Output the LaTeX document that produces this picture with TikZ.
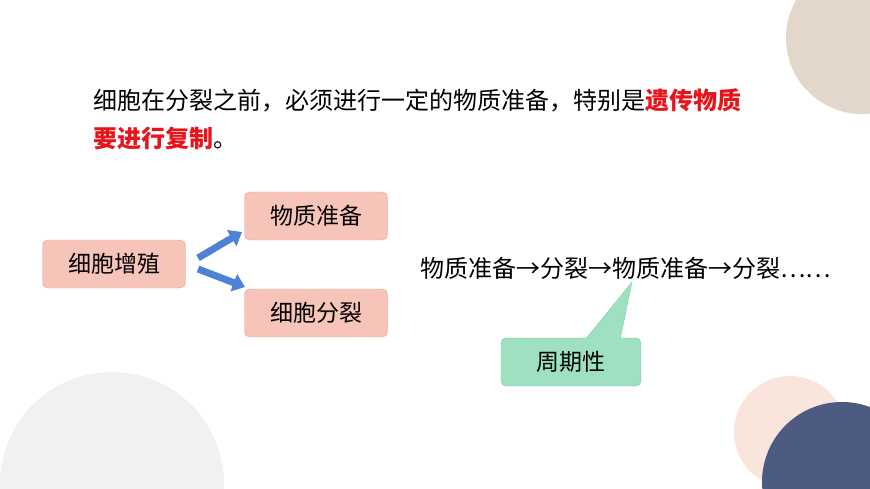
\documentclass[tikz,border=0pt]{standalone}
\usepackage{fontspec}
\setmainfont{Noto Sans CJK SC}
\usetikzlibrary{arrows.meta}
\definecolor{boxred}{HTML}{F7C4B9}
\definecolor{boxline}{HTML}{E7A496}
\definecolor{boxgreen}{HTML}{9EE0BF}
\definecolor{greenline}{HTML}{7CCBA6}
\definecolor{arrowblue}{HTML}{4F81D7}
\definecolor{hired}{HTML}{E8141B}
\definecolor{circtan}{HTML}{E3D6CB}
\definecolor{circgray}{HTML}{F1F1F1}
\definecolor{circpeach}{HTML}{F9E5DC}
\definecolor{circnavy}{HTML}{4D5A82}
\begin{document}
\begin{tikzpicture}[x=1pt,y=-1pt,
				redbox/.style = {draw=boxline, fill=boxred, rounded corners=5pt, minimum width=143pt, minimum height=48pt, font=\fontsize{23}{28}\selectfont},
				greenbox/.style = {draw=greenline, fill=boxgreen, rounded corners=5pt, minimum width=140pt, minimum height=48pt, font=\fontsize{23}{28}\selectfont},
				blockarrow/.style = {draw=arrowblue, line width=7pt, -{Triangle[length=12pt,width=18pt]}},
				plain/.style = {font=\fontsize{24}{28}\selectfont, inner sep=0pt}
			]
			\useasboundingbox (0,0) rectangle (870,489);
			\clip (0,0) rectangle (870,489);
			% background circles
			\fill[circtan] (862,38) circle (76);
			\fill[circgray] (112,484) circle (112);
			\fill[circpeach] (790,432) circle (56);
			\fill[circnavy] (842,482) circle (80);
			% text
			\node[plain, anchor=west] (line1) at (93,100) {细胞在分裂之前，必须进行一定的物质准备，特别是\textcolor{hired}{\bfseries 遗传物质}};
			\node[plain, anchor=west] (line2) at (93,138) {\textcolor{hired}{\bfseries 要进行复制}。};
			% boxes
			\node[redbox] (zengzhi) at (114,264) {细胞增殖};
			\node[redbox] (zhunbei) at (316,216) {物质准备};
			\node[redbox] (fenlie) at (316,313) {细胞分裂};
			\node[plain, anchor=west] (chain) at (420,268) {物质准备→分裂→物质准备→分裂……};
			\coordinate (tip) at (632,282);
			\fill[fill=boxgreen, draw=greenline] (585,340) -- (tip) -- (620,340);
			\node[greenbox] (zhouqi) at (571,362) {周期性};
			\fill[boxgreen] (586,341) -- (tip) -- (619,341) -- cycle;
			% arrows
			\coordinate (up0) at (198,258);
			\coordinate (up1) at (242,232);
			\coordinate (dn0) at (198,269);
			\coordinate (dn1) at (245,287);
			\draw[blockarrow] (up0) -- (up1);
			\draw[blockarrow] (dn0) -- (dn1);
		\end{tikzpicture}
\end{document}
